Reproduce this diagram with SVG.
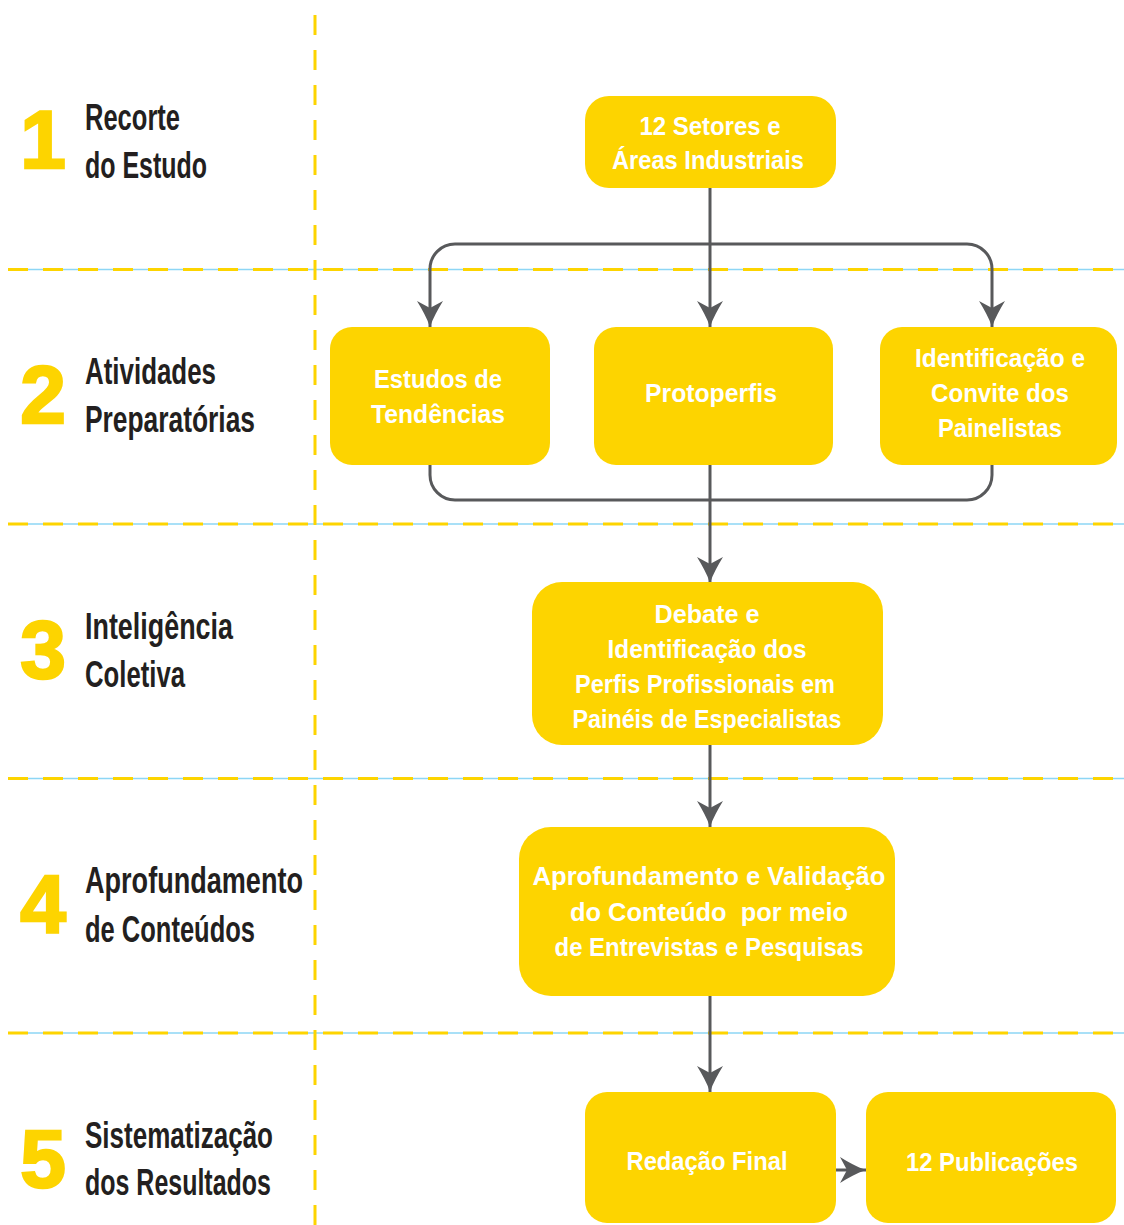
<svg xmlns="http://www.w3.org/2000/svg" width="1124" height="1225" viewBox="0 0 1124 1225">
<style>
.node rect{fill:#FDD400}
.nt{font-family:"Liberation Sans",Arial,sans-serif;font-weight:bold;font-size:25px;fill:#FFFFFF;text-anchor:middle}
.lbl{font-family:"Liberation Sans",Arial,sans-serif;font-weight:bold;font-size:37px;fill:#231F20}
.num{font-family:"Liberation Sans",Arial,sans-serif;font-weight:bold;font-size:82px;fill:#FDD400;stroke:#FDD400;stroke-width:2.5;text-anchor:middle}
.grid-blue{stroke:#8DD6F5;stroke-width:1.3;fill:none}
.grid-dash{stroke:#FDD400;stroke-width:3;stroke-dasharray:20 15;fill:none}
.conn path{stroke:#58595B;stroke-width:3;fill:none}
</style>
<defs>
<marker id="ah" viewBox="0 0 26 26" refX="26" refY="13" markerWidth="26" markerHeight="26" markerUnits="userSpaceOnUse" orient="auto">
<path d="M26,13 C17,10 8,5 0,0 L7,13 L0,26 C8,21 17,16 26,13 Z" fill="#58595B"/>
</marker>
</defs>
<rect width="1124" height="1225" fill="#FFFFFF"/>
<g id="grid">
<path class="grid-blue" d="M8,269.5 H1124 M8,524 H1124 M8,778.5 H1124 M8,1033 H1124"/>
<path class="grid-dash" d="M8,269.5 H1124 M8,524 H1124 M8,778.5 H1124 M8,1033 H1124"/>
<path class="grid-dash" d="M315,15 V1225"/>
</g>
<g id="stages">
<g id="stage1"><text class="num" x="43" y="168">1</text><text class="lbl" x="85" y="130" textLength="95" lengthAdjust="spacingAndGlyphs">Recorte</text><text class="lbl" x="85" y="178" textLength="122" lengthAdjust="spacingAndGlyphs">do Estudo</text></g>
<g id="stage2"><text class="num" x="43" y="423">2</text><text class="lbl" x="85" y="384" textLength="131" lengthAdjust="spacingAndGlyphs">Atividades</text><text class="lbl" x="85" y="432" textLength="170" lengthAdjust="spacingAndGlyphs">Preparatórias</text></g>
<g id="stage3"><text class="num" x="43" y="678">3</text><text class="lbl" x="85" y="639" textLength="148" lengthAdjust="spacingAndGlyphs">Inteligência</text><text class="lbl" x="85" y="687" textLength="100" lengthAdjust="spacingAndGlyphs">Coletiva</text></g>
<g id="stage4"><text class="num" x="43" y="932">4</text><text class="lbl" x="85" y="893" textLength="218" lengthAdjust="spacingAndGlyphs">Aprofundamento</text><text class="lbl" x="85" y="942" textLength="170" lengthAdjust="spacingAndGlyphs">de Conteúdos</text></g>
<g id="stage5"><text class="num" x="43" y="1187">5</text><text class="lbl" x="85" y="1148" textLength="188" lengthAdjust="spacingAndGlyphs">Sistematização</text><text class="lbl" x="85" y="1195" textLength="186" lengthAdjust="spacingAndGlyphs">dos Resultados</text></g>
</g>
<g id="connectors" class="conn">
<path d="M710,188 V327" marker-end="url(#ah)"/>
<path d="M710,244 H455 A25,25 0 0 0 430,269 V327" marker-end="url(#ah)"/>
<path d="M710,244 H967 A25,25 0 0 1 992,269 V327" marker-end="url(#ah)"/>
<path d="M430,465 V475 A25,25 0 0 0 455,500 H967 A25,25 0 0 0 992,475 V465"/>
<path d="M710,465 V583" marker-end="url(#ah)"/>
<path d="M710,745 V827" marker-end="url(#ah)"/>
<path d="M710,996 V1092" marker-end="url(#ah)"/>
<path d="M836,1170 H866" marker-end="url(#ah)"/>
</g>
<g id="n-setores" class="node"><rect x="585" y="96" width="251" height="92" rx="24"/><text class="nt" x="710" y="135" textLength="141" lengthAdjust="spacingAndGlyphs">12 Setores e</text><text class="nt" x="708" y="169" textLength="192" lengthAdjust="spacingAndGlyphs">Áreas Industriais</text></g>
<g id="n-estudos" class="node"><rect x="330" y="327" width="220" height="138" rx="22"/><text class="nt" x="438" y="388" textLength="128" lengthAdjust="spacingAndGlyphs">Estudos de</text><text class="nt" x="438" y="423" textLength="134" lengthAdjust="spacingAndGlyphs">Tendências</text></g>
<g id="n-protoperfis" class="node"><rect x="594" y="327" width="239" height="138" rx="22"/><text class="nt" x="711" y="402" textLength="132" lengthAdjust="spacingAndGlyphs">Protoperfis</text></g>
<g id="n-painelistas" class="node"><rect x="880" y="327" width="237" height="138" rx="22"/><text class="nt" x="1000" y="367" textLength="170" lengthAdjust="spacingAndGlyphs">Identificação e</text><text class="nt" x="1000" y="402" textLength="138" lengthAdjust="spacingAndGlyphs">Convite dos</text><text class="nt" x="1000" y="437" textLength="124" lengthAdjust="spacingAndGlyphs">Painelistas</text></g>
<g id="n-debate" class="node"><rect x="532" y="582" width="351" height="163" rx="30"/><text class="nt" x="707" y="623" textLength="105" lengthAdjust="spacingAndGlyphs">Debate e</text><text class="nt" x="707" y="658" textLength="199" lengthAdjust="spacingAndGlyphs">Identificação dos</text><text class="nt" x="705" y="693" textLength="260" lengthAdjust="spacingAndGlyphs">Perfis Profissionais em</text><text class="nt" x="707" y="728" textLength="269" lengthAdjust="spacingAndGlyphs">Painéis de Especialistas</text></g>
<g id="n-aprofundamento" class="node"><rect x="519" y="827" width="376" height="169" rx="32"/><text class="nt" x="709" y="885" textLength="353" lengthAdjust="spacingAndGlyphs">Aprofundamento e Validação</text><text class="nt" x="709" y="921" textLength="278" lengthAdjust="spacingAndGlyphs" xml:space="preserve">do Conteúdo  por meio</text><text class="nt" x="709" y="956" textLength="309" lengthAdjust="spacingAndGlyphs">de Entrevistas e Pesquisas</text></g>
<g id="n-redacao" class="node"><rect x="585" y="1092" width="251" height="131" rx="22"/><text class="nt" x="707" y="1170" textLength="161" lengthAdjust="spacingAndGlyphs">Redação Final</text></g>
<g id="n-publicacoes" class="node"><rect x="866" y="1092" width="250" height="131" rx="22"/><text class="nt" x="992" y="1171" textLength="172" lengthAdjust="spacingAndGlyphs">12 Publicações</text></g>
</svg>
